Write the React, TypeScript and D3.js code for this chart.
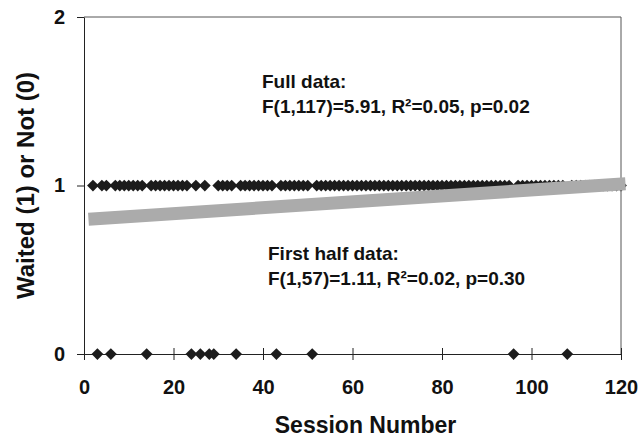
import { useEffect, useRef } from 'react';
import * as d3 from 'd3';

// sessions where the subject waited (1) and where it did not (0)
const waitedSessions = [
  2, 4, 5, 7, 8, 9, 10, 11, 12, 13, 15, 16, 17, 18, 19, 20, 21, 22, 23, 25, 27, 30, 31, 32, 33,
  35, 36, 37, 38, 39, 40, 41, 42, 44, 45, 46, 47, 48, 49, 50, 52, 53, 54, 55, 56, 57, 58, 59, 60,
  61, 62, 63, 64, 65, 66, 67, 68, 69, 70, 71, 72, 73, 74, 75, 76, 77, 78, 79, 80, 81, 82, 83, 84,
  85, 86, 87, 88, 89, 90, 91, 92, 93, 94, 95, 97, 98, 99, 100, 101, 102, 103, 104, 105, 106, 107,
  109, 110, 111, 112, 113, 114, 115, 116, 117, 118, 119, 120,
];
const notWaitedSessions = [3, 6, 14, 24, 26, 28, 29, 34, 43, 51, 96, 108];

// fitted trend line (gray), endpoints
const trendX = [1, 121];
const trendY = [0.8, 1.01];

const xTicks = [0, 20, 40, 60, 80, 100, 120];
const yTicks = [0, 1, 2];

const fullDataText = ['Full data:', 'F(1,117)=5.91, R²=0.05, p=0.02'];
const halfDataText = ['First half data:', 'F(1,57)=1.11, R²=0.02, p=0.30'];

const FONT = '"Liberation Sans", Arial, sans-serif';

export default function App() {
  const svgRef = useRef<SVGSVGElement>(null);

  useEffect(() => {
    const svg = d3.select(svgRef.current);
    svg.selectAll('*').remove();

    const x = d3.scaleLinear().domain([0, 120]).range([84, 621]);
    const y = d3.scaleLinear().domain([0, 2]).range([354, 17]);
    const ink = '#222';

    // frame: top and right
    svg.append('line')
      .attr('x1', x(0)).attr('x2', x(120)).attr('y1', y(2)).attr('y2', y(2))
      .attr('stroke', '#555').attr('stroke-width', 1);
    svg.append('line')
      .attr('x1', x(120)).attr('x2', x(120)).attr('y1', y(2)).attr('y2', y(0))
      .attr('stroke', '#555').attr('stroke-width', 1);

    // x axis, ticks crossing the line
    const gx = svg.append('g')
      .attr('transform', `translate(0, ${y(0)})`)
      .call(d3.axisBottom(x).tickValues(xTicks).tickSizeOuter(0).tickSizeInner(6).tickPadding(8));
    gx.select('.domain').attr('stroke', ink);
    gx.selectAll('.tick line').attr('y1', -6).attr('y2', 6).attr('stroke', ink);
    gx.selectAll('.tick text')
      .attr('y', 40).attr('dy', null)
      .attr('fill', '#111')
      .style('font', `bold 20px ${FONT}`);

    // y axis
    const gy = svg.append('g')
      .attr('transform', `translate(${x(0)}, 0)`)
      .call(d3.axisLeft(y).tickValues(yTicks).tickFormat(d3.format('d')).tickSizeOuter(0).tickSizeInner(7).tickPadding(12));
    gy.select('.domain').attr('stroke', ink);
    gy.selectAll('.tick line').attr('stroke', ink);
    gy.selectAll('.tick text')
      .attr('fill', '#111')
      .style('font', `bold 20px ${FONT}`);

    // data points (diamonds)
    const diamond = d3.symbol().type(d3.symbolDiamond2 || d3.symbolDiamond).size(88);
    const pts = [
      ...waitedSessions.map((s) => ({ s, v: 1 })),
      ...notWaitedSessions.map((s) => ({ s, v: 0 })),
    ];
    svg.append('g')
      .selectAll('path')
      .data(pts)
      .enter()
      .append('path')
      .attr('d', diamond)
      .attr('transform', (d) => `translate(${x(d.s)}, ${y(d.v)})`)
      .attr('fill', '#1c1c1c');

    // trend line
    const line = d3.line<number>()
      .x((d, i) => x(trendX[i]))
      .y((d) => y(d));
    svg.append('path')
      .attr('d', line(trendY))
      .attr('stroke', '#ababab')
      .attr('stroke-width', 13)
      .attr('fill', 'none');

    // annotations
    const note = (lines: string[], left: number, top: number) => {
      svg.append('text')
        .attr('x', left).attr('y', top)
        .attr('fill', '#111')
        .style('font', `bold 19px ${FONT}`)
        .selectAll('tspan')
        .data(lines)
        .enter()
        .append('tspan')
        .attr('x', left)
        .attr('dy', (d, i) => (i === 0 ? 0 : 25))
        .text((d) => d);
    };
    note(fullDataText, 262, 88);
    note(halfDataText, 268, 260);

    // axis titles
    svg.append('text')
      .attr('x', (x(0) + x(120)) / 2 + 13).attr('y', 433)
      .attr('text-anchor', 'middle')
      .attr('fill', '#111')
      .style('font', `bold 23px ${FONT}`)
      .text('Session Number');
    svg.append('text')
      .attr('transform', `translate(34, ${y(1)}) rotate(-90)`)
      .attr('text-anchor', 'middle')
      .attr('fill', '#111')
      .style('font', `bold 24px ${FONT}`)
      .text('Waited (1) or Not (0)');
  }, []);

  return (
    <svg
      ref={svgRef}
      width="640"
      height="440"
      style={{ position: 'absolute', left: 0, top: 0, background: '#fff' }}
    />
  );
}
